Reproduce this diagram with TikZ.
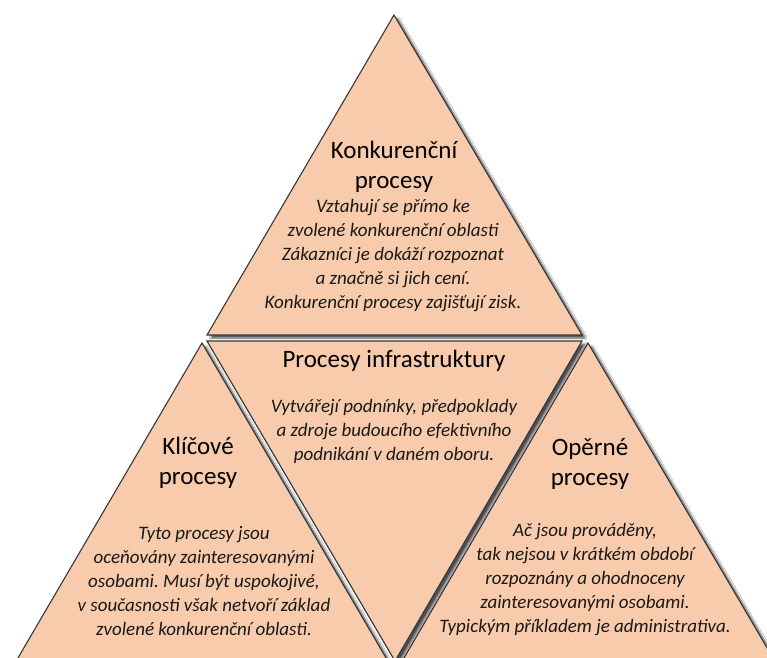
\documentclass[tikz,border=0pt]{standalone}
\usepackage{fontspec}
\setmainfont{Carlito}
\frenchspacing
\usetikzlibrary{shadows.blur}
\definecolor{peach}{RGB}{248,203,173}
\definecolor{edge}{RGB}{55,55,55}
\tikzset{
  tri/.style={fill=peach, draw=edge, line width=1.1pt, line join=miter,
    blur shadow={shadow xshift=3.5pt, shadow yshift=-3pt, shadow blur steps=6, shadow blur extra rounding=1pt, shadow opacity=70}},
  head/.style={font=\fontsize{25}{30}\selectfont, align=center, text=black, inner sep=0pt},
  body/.style={font=\fontsize{19}{24}\itshape\selectfont, align=center, text=black!90, inner sep=0pt}
}
\begin{document}
\begin{tikzpicture}[x=1pt, y=-1pt]
  \clip (0,0) rectangle (767,657);
  \fill[white] (0,0) rectangle (767,657);

  % four triangles of the pyramid
  \path[tri] (588,343) -- (401,663) -- (776,663) -- cycle;
  \path[tri] (207,341) -- (582,341) -- (395,661) -- cycle;
  \path[tri] (202,343) -- (15,663) -- (389,663) -- cycle;
  \path[tri] (394,15) -- (207,335) -- (582,335) -- cycle;

  % top triangle
  \node[head] (topHead) at (394,167) {Konkurenční\\procesy};
  \node[body] (topBody) at (393,256) {Vztahují se přímo ke\\zvolené konkurenční oblasti\\Zákazníci je dokáží rozpoznat\\a značně si jich cení.\\Konkurenční procesy zajišťují zisk.};

  % middle triangle
  \node[head] (midHead) at (394,361) {Procesy infrastruktury};
  \node[body] (midBody) at (394,431) {Vytvářejí podnínky, předpoklady\\a zdroje budoucího efektivního\\podnikání v daném oboru.};

  % left triangle
  \node[head] (leftHead) at (198,463) {Klíčové\\procesy};
  \node[body] (leftBody) at (204,581) {Tyto procesy jsou\\oceňovány zainteresovanými\\osobami. Musí být uspokojivé,\\v současnosti však netvoří základ\\zvolené konkurenční oblasti.};

  % right triangle
  \node[head] (rightHead) at (590,464) {Opěrné\\procesy};
  \node[body] (rightBody) at (585,580) {Ač jsou prováděny,\\tak nejsou v krátkém období\\rozpoznány a ohodnoceny\\zainteresovanými osobami.\\Typickým příkladem je administrativa.};
\end{tikzpicture}
\end{document}
